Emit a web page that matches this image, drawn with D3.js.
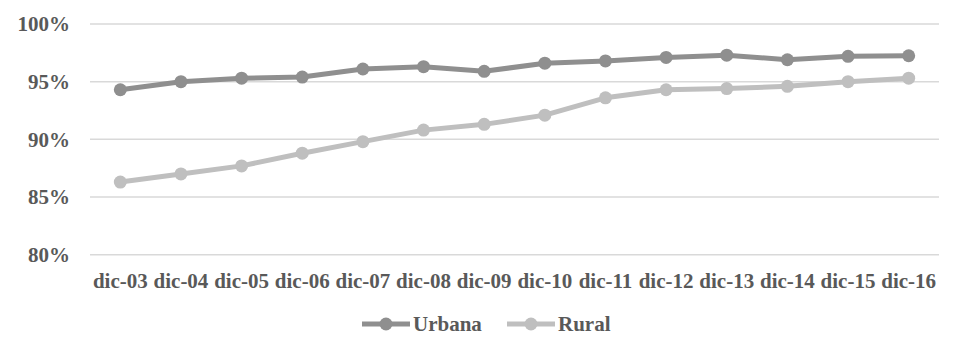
<!DOCTYPE html>
<html>
<head>
<meta charset="utf-8">
<script src="https://cdn.jsdelivr.net/npm/d3@7"></script>
<style>
  body { margin: 0; background: #fff; }
  text { font-family: "Liberation Serif", "Times New Roman", serif; font-weight: bold; fill: #595959; }
</style>
</head>
<body>
<div id="chart"></div>
<script>
var categories = ['dic-03','dic-04','dic-05','dic-06','dic-07','dic-08','dic-09','dic-10','dic-11','dic-12','dic-13','dic-14','dic-15','dic-16'];
var urbana = [94.3, 95.0, 95.3, 95.4, 96.1, 96.3, 95.9, 96.6, 96.8, 97.1, 97.3, 96.9, 97.2, 97.25];
var rural = [86.3, 87.0, 87.7, 88.8, 89.8, 90.8, 91.3, 92.1, 93.6, 94.3, 94.4, 94.6, 95.0, 95.3];
var yTicks = [80, 85, 90, 95, 100];
var seriesNames = ['Urbana', 'Rural'];
var colors = ['#8f8f8f', '#bfbfbf'];

var w = 962, h = 354;
var plotLeft = 90, plotRight = 939, plotTop = 24, plotBottom = 254.7;

var svg = d3.select('#chart').append('svg')
  .attr('width', w)
  .attr('height', h);

var x = d3.scaleBand().domain(categories).range([plotLeft, plotRight]);
var y = d3.scaleLinear().domain([80, 100]).range([plotBottom, plotTop]);

// gridlines
svg.append('g')
  .selectAll('line')
  .data(yTicks)
  .enter().append('line')
    .attr('x1', plotLeft).attr('x2', plotRight)
    .attr('y1', d => y(d)).attr('y2', d => y(d))
    .attr('stroke', '#d9d9d9')
    .attr('stroke-width', 1.5);

// y labels
svg.append('g')
  .selectAll('text')
  .data(yTicks)
  .enter().append('text')
    .attr('x', 70)
    .attr('y', d => y(d))
    .attr('dy', '0.35em')
    .attr('text-anchor', 'end')
    .style('font-size', '21px')
    .text(d => d + '%');

// x labels
svg.append('g')
  .selectAll('text')
  .data(categories)
  .enter().append('text')
    .attr('x', d => x(d) + x.bandwidth() / 2)
    .attr('y', 288)
    .attr('text-anchor', 'middle')
    .style('font-size', '21px')
    .text(d => d);

var line = d3.line()
  .x((d, i) => x(categories[i]) + x.bandwidth() / 2)
  .y(d => y(d));

[urbana, rural].forEach(function(data, k) {
  var g = svg.append('g');
  g.append('path')
    .attr('d', line(data))
    .attr('fill', 'none')
    .attr('stroke', colors[k])
    .attr('stroke-width', 5)
    .attr('stroke-linejoin', 'round');
  g.selectAll('circle')
    .data(data)
    .enter().append('circle')
      .attr('cx', (d, i) => x(categories[i]) + x.bandwidth() / 2)
      .attr('cy', d => y(d))
      .attr('r', 6.5)
      .attr('fill', colors[k]);
});

// legend
var legendX = [362, 507];
seriesNames.forEach(function(name, k) {
  var g = svg.append('g').attr('transform', 'translate(' + legendX[k] + ',324)');
  g.append('line')
    .attr('x1', 0).attr('x2', 48)
    .attr('stroke', colors[k])
    .attr('stroke-width', 5);
  g.append('circle')
    .attr('cx', 24).attr('r', 6.5)
    .attr('fill', colors[k]);
  g.append('text')
    .attr('x', 51)
    .attr('y', 0)
    .attr('dy', '0.35em')
    .style('font-size', '21px')
    .text(name);
});
</script>
</body>
</html>
